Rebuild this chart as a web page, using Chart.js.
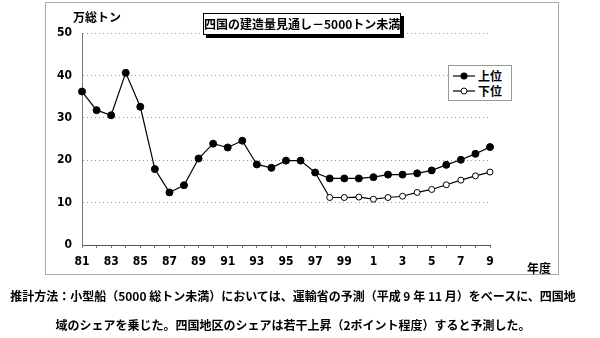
<!DOCTYPE html>
<html>
<head>
<meta charset="utf-8">
<script src="https://cdn.jsdelivr.net/npm/chart.js@4"></script>
<style>
  body { margin: 0; background: #fff; }
  #wrap { position: relative; width: 600px; height: 338px; overflow: hidden;
    font-family: "Noto Sans CJK JP", sans-serif; color: #000; }
  #frame { position: absolute; left: 45px; top: 2px; width: 512px; height: 271px;
    border: 1px solid #aaa; }
  canvas { position: absolute; left: 0; top: 0; }
  .lbl { position: absolute; font-size: 12px; font-weight: bold; white-space: nowrap; line-height: 1; }
  #title { position: absolute; left: 203px; top: 13px; width: 196px; height: 20px;
    border: 1px solid #000; box-shadow: 3px 3px 0 #000; background: #fff;
    font-size: 12px; font-weight: bold; line-height: 20px; text-align: center; white-space: nowrap; }
  #legend { position: absolute; left: 448px; top: 65px; width: 62px; height: 34px;
    border: 1px solid #999; background: #fff; }
  .row { position: absolute; left: 4px; height: 14px; font-size: 12px; font-weight: bold; line-height: 14px; }
  .row svg { vertical-align: top; margin-right: 3px; }
  .cap { position: absolute; left: 0; width: 586px; text-align: center; font-size: 12px;
    font-weight: bold; white-space: nowrap; line-height: 1; }
</style>
</head>
<body>
<div id="wrap">
  <div id="frame"></div>
  <canvas id="c" width="600" height="338"></canvas>
  <div class="lbl" style="left:73px; top:11px;">万総トン</div>
  <div class="lbl" style="left:527px; top:262px;">年度</div>
  <div id="title">四国の建造量見通し－5000トン未満</div>
  <div id="legend">
    <div class="row" style="top:3px;"><svg width="22" height="14"><line x1="0" y1="7" x2="22" y2="7" stroke="#000" stroke-width="1.2"/><circle cx="11" cy="7" r="3.5" fill="#000"/></svg>上位</div>
    <div class="row" style="top:18px;"><svg width="22" height="14"><line x1="0" y1="7" x2="22" y2="7" stroke="#000" stroke-width="1.2"/><circle cx="11" cy="7" r="3" fill="#fff" stroke="#000" stroke-width="1"/></svg>下位</div>
  </div>
  <div class="cap" style="top:290px;">推計方法：小型船（5000 総トン未満）においては、運輸省の予測（平成 9 年 11 月）をベースに、四国地</div>
  <div class="cap" style="top:319px;">域のシェアを乗じた。四国地区のシェアは若干上昇（2ポイント程度）すると予測した。</div>
</div>
<script>
  // fiscal years 1981 - 2009
  const years = ["81", "82", "83", "84", "85", "86", "87", "88", "89", "90",
    "91", "92", "93", "94", "95", "96", "97", "98", "99", "0",
    "1", "2", "3", "4", "5", "6", "7", "8", "9"];

  // upper estimate (万総トン)
  const upperValues = [36.2, 31.8, 30.6, 40.6, 32.6, 17.9, 12.4, 14.1, 20.4, 23.9,
    23.0, 24.6, 19.0, 18.2, 19.9, 19.9, 17.1, 15.7, 15.7, 15.7,
    16.0, 16.6, 16.6, 16.9, 17.6, 18.9, 20.1, 21.5, 23.1];

  // lower estimate, branches off from 97
  const lowerValues = [null, null, null, null, null, null, null, null, null, null,
    null, null, null, null, null, null, 17.1, 11.2, 11.2, 11.3,
    10.8, 11.2, 11.5, 12.4, 13.1, 14.2, 15.3, 16.3, 17.2];

  const yTicks = [0, 10, 20, 30, 40, 50];

  const tickFont = { family: "'Liberation Sans Narrow', 'DejaVu Sans Condensed', sans-serif", size: 12, weight: "bold" };

  new Chart(document.getElementById("c").getContext("2d"), {
    type: "line",
    data: {
      labels: years,
      datasets: [
        {
          label: "上位",
          data: upperValues,
          borderColor: "#000",
          borderWidth: 1.2,
          backgroundColor: "#000",
          pointBackgroundColor: "#000",
          pointBorderColor: "#000",
          pointRadius: 3.5,
          pointBorderWidth: 1,
          tension: 0,
        },
        {
          label: "下位",
          data: lowerValues,
          borderColor: "#000",
          borderWidth: 1.2,
          pointBackgroundColor: "#fff",
          pointBorderColor: "#000",
          pointRadius: (ctx) => (ctx.dataIndex === 16 ? 0 : 3),
          pointBorderWidth: 1,
          tension: 0,
        },
      ],
    },
    options: {
      responsive: false,
      animation: false,
      layout: { padding: { left: 0, right: 110, top: 33, bottom: 0 } },
      plugins: { legend: { display: false }, tooltip: { enabled: false } },
      scales: {
        x: {
          offset: false,
          grid: { display: true, drawOnChartArea: false, tickLength: 3, color: "#777" },
          border: { color: "#555", width: 1 },
          ticks: {
            autoSkip: false,
            maxRotation: 0,
            padding: 7,
            color: "#000",
            font: tickFont,
            callback: (v, i) => (i % 2 === 0 ? years[i] : ""),
          },
          afterFit: (scale) => { scale.height = 93; },
        },
        y: {
          min: 0,
          max: 50,
          afterBuildTicks: (scale) => { scale.ticks = yTicks.map((v) => ({ value: v })); },
          grid: { color: "#999", lineWidth: 1, tickLength: 0 },
          border: { color: "#777", width: 1, dash: [1, 3] },
          ticks: { padding: 10, color: "#000", font: tickFont },
          afterFit: (scale) => { scale.width = 82; },
        },
      },
    },
  });
</script>
</body>
</html>
